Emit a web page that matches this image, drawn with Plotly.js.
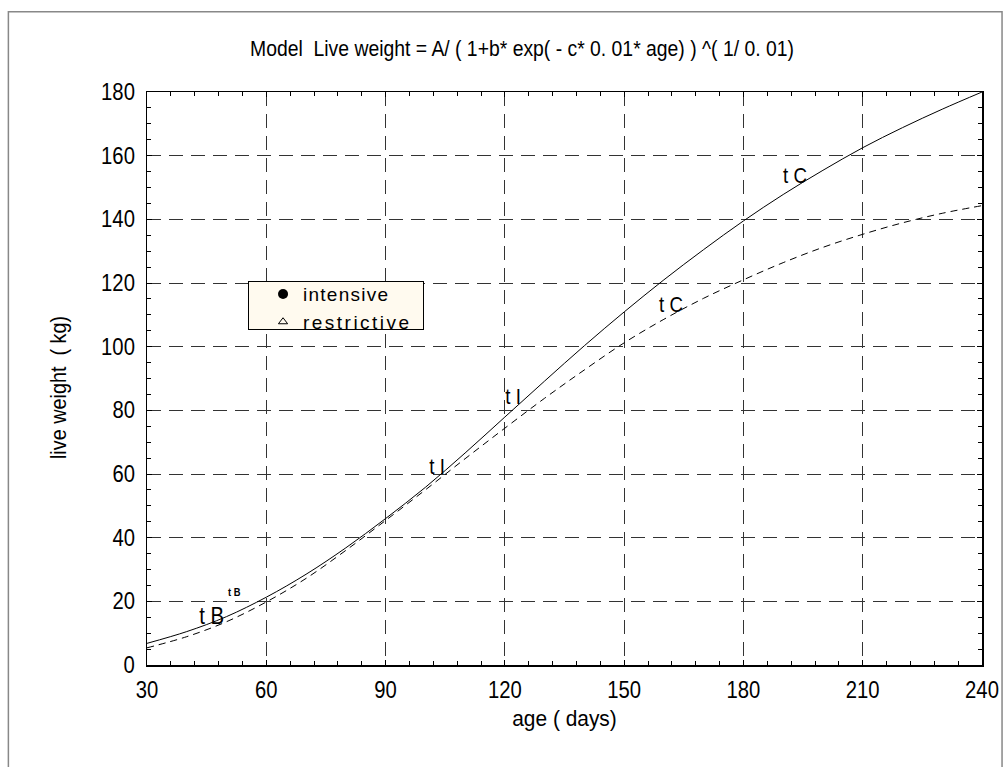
<!DOCTYPE html>
<html>
<head>
<meta charset="utf-8">
<script src="https://cdn.plot.ly/plotly-3.0.1.min.js"></script>
<style>html,body{margin:0;padding:0;background:#fff;}#chart{width:1008px;height:767px;}</style>
</head>
<body>
<div id="chart"></div>
<script>
// ages (days)
const ages = [30, 40, 50, 60, 70, 80, 90, 100, 110, 120, 130, 140, 150, 160, 170, 180, 190, 200, 210, 220, 230, 240];
// live weight (kg), intensive group (solid curve)
const intensive = [6.8, 10.5, 15.2, 21.3, 28.5, 36.8, 46.0, 55.8, 66.6, 77.9, 89.2, 100.3, 110.9, 121.0, 130.5, 139.5, 147.8, 155.4, 162.5, 168.8, 174.6, 180.0];
// live weight (kg), restrictive group (dashed curve)
const restrictive = [5.4, 8.9, 13.6, 19.8, 27.2, 36.0, 45.4, 55.0, 64.8, 74.4, 83.8, 92.7, 101.2, 108.6, 115.2, 121.0, 126.4, 131.2, 135.3, 138.9, 141.9, 144.3];
const seriesNames = ["intensive", "restrictive"];
const xTicks = [30, 60, 90, 120, 150, 180, 210, 240];
const yTicks = [0, 20, 40, 60, 80, 100, 120, 140, 160, 180];
// curve labels: text, age, weight
const labelText = ["t B", "t B", "t I", "t I", "t C", "t C"];
const labelAge = [46.3, 51.9, 102.9, 122.0, 193.0, 161.8];
const labelWeight = [15.4, 22.9, 62.5, 84.5, 153.9, 113.1];
const labelSize = [24, 11, 22, 22, 22, 22];

const FONT = '"Liberation Sans", Arial, sans-serif';

const traces = [
  {x: ages, y: intensive, mode: 'lines', line: {color: '#000', width: 1, shape: 'spline', smoothing: 1}, showlegend: false, hoverinfo: 'x+y'},
  {x: ages, y: restrictive, mode: 'lines', line: {color: '#000', width: 1, dash: '7px,5px', shape: 'spline', smoothing: 1}, showlegend: false, hoverinfo: 'x+y'},
  {x: [null], y: [null], mode: 'markers', name: seriesNames[0], marker: {symbol: 'circle', color: '#000', size: 10}},
  {x: [null], y: [null], mode: 'markers', name: seriesNames[1], marker: {symbol: 'triangle-up-open', color: '#000', size: 8, line: {width: 1}}}
];

const annotations = labelText.map((t, i) => ({
  x: labelAge[i], y: labelWeight[i], xref: 'x', yref: 'y', text: i === 1 ? '<b>' + t + '</b>' : t,
  showarrow: false, font: {family: FONT, size: labelSize[i], color: '#000'}
}));

const layout = {
  width: 1008, height: 767,
  margin: {l: 147, r: 26, t: 92, b: 102, pad: 0},
  paper_bgcolor: '#fff', plot_bgcolor: '#fff',
  font: {family: FONT, color: '#000', size: 22},
  title: {text: 'Model  Live weight = A/ ( 1+b* exp( - c* 0. 01* age) ) ^( 1/ 0. 01)', font: {family: FONT, size: 22, color: '#000'}, x: (522 - 147) / 835, xref: 'paper', xanchor: 'center', y: 0.937, yanchor: 'middle'},
  xaxis: {
    range: [30, 240], tickvals: xTicks, ticktext: xTicks.map(String),
    showline: true, linecolor: '#000', linewidth: 1.5, mirror: 'ticks',
    ticks: 'inside', ticklen: 5, tickcolor: '#000', tickwidth: 1,
    showgrid: true, gridcolor: '#333', gridwidth: 1, griddash: '14px,8px',
    zeroline: false, tickfont: {family: FONT, size: 23}, ticklabelstandoff: 4,
    minor: {dtick: 6, tick0: 30, ticks: 'inside', ticklen: 4, tickcolor: '#000', showgrid: false},
    title: {text: 'age ( days)', font: {family: FONT, size: 22}, standoff: 8}
  },
  yaxis: {
    range: [0, 180], tickvals: yTicks, ticktext: yTicks.map(String),
    showline: true, linecolor: '#000', linewidth: 1.5, mirror: 'ticks',
    ticks: 'inside', ticklen: 5, tickcolor: '#000', tickwidth: 1,
    showgrid: true, gridcolor: '#333', gridwidth: 1, griddash: '14px,8px',
    zeroline: false, tickfont: {family: FONT, size: 23}, ticklabelstandoff: 6,
    minor: {dtick: 5, tick0: 0, ticks: 'inside', ticklen: 4, tickcolor: '#000', showgrid: false},
    title: {text: 'live weight  ( kg)', font: {family: FONT, size: 22}, standoff: 24}
  },
  legend: {
    x: 0.121, y: 0.682, xanchor: 'left', yanchor: 'top',
    bgcolor: '#fffaef', bordercolor: '#000', borderwidth: 1,
    font: {family: FONT, size: 19, color: '#000'}, indentation: 14,
    tracegroupgap: 0, itemsizing: 'trace'
  },
  annotations: annotations,
  shapes: [
    {type: 'rect', xref: 'paper', yref: 'paper', x0: -0.166, x1: 1.024, y0: -0.25, y1: 1.14, line: {color: '#888', width: 1.5}, fillcolor: 'rgba(0,0,0,0)', layer: 'below'}
  ]
};

// narrow the glyphs to imitate the condensed face of the original
function condense(gd) {
  const rules = [
    ['.xtick text, .ytick text', 0.88],
    ['.gtitle', 0.88],
    ['.ytitle', 0.9],
    ['.xtitle', 0.95],
    ['.annotation-text', 0.85]
  ];
  rules.forEach(([sel, f]) => {
    gd.querySelectorAll(sel).forEach(el => {
      const len = el.getComputedTextLength();
      if (len > 0) {
        el.setAttribute('textLength', (len * f).toFixed(1));
        el.setAttribute('lengthAdjust', 'spacingAndGlyphs');
      }
    });
  });
  const yt = gd.querySelector('g.g-ytitle');
  if (yt) yt.setAttribute('transform', 'translate(0,9)');
}

// reshape the legend box to the compact box of the original
function tidyLegend(gd) {
  try {
    const leg = gd.querySelector('g.legend');
    if (!leg) return;
    const widths = [85, 106];
    leg.querySelectorAll('text.legendtext').forEach((el, i) => {
      const len = el.getComputedTextLength();
      if (len > 0 && widths[i] > len) {
        el.setAttribute('textLength', widths[i]);
        el.setAttribute('lengthAdjust', 'spacing');
      }
    });
    const bg = leg.querySelector('rect.bg');
    const texts = leg.querySelectorAll('text.legendtext');
    if (bg && texts.length === 2) {
      const bgR = bg.getBoundingClientRect();
      const r1 = texts[0].getBoundingClientRect();
      const r2 = texts[1].getBoundingClientRect();
      const c1 = (r1.top + r1.bottom) / 2, c2 = (r2.top + r2.bottom) / 2;
      const oldY = parseFloat(bg.getAttribute('y') || 0);
      const top = c1 - 14, bottom = c2 + 7;
      bg.setAttribute('y', (oldY + (top - bgR.top)).toFixed(1));
      bg.setAttribute('height', (bottom - top).toFixed(1));
      bg.setAttribute('width', 175);
    }
    gd.querySelectorAll('clipPath').forEach(cp => {
      if (/legend/.test(cp.id)) {
        cp.querySelectorAll('rect').forEach(r => r.setAttribute('width', 200));
      }
    });
  } catch (e) {}
}

Plotly.newPlot('chart', traces, layout, {displayModeBar: false, staticPlot: true}).then(gd => { condense(gd); tidyLegend(gd); });
</script>
</body>
</html>
